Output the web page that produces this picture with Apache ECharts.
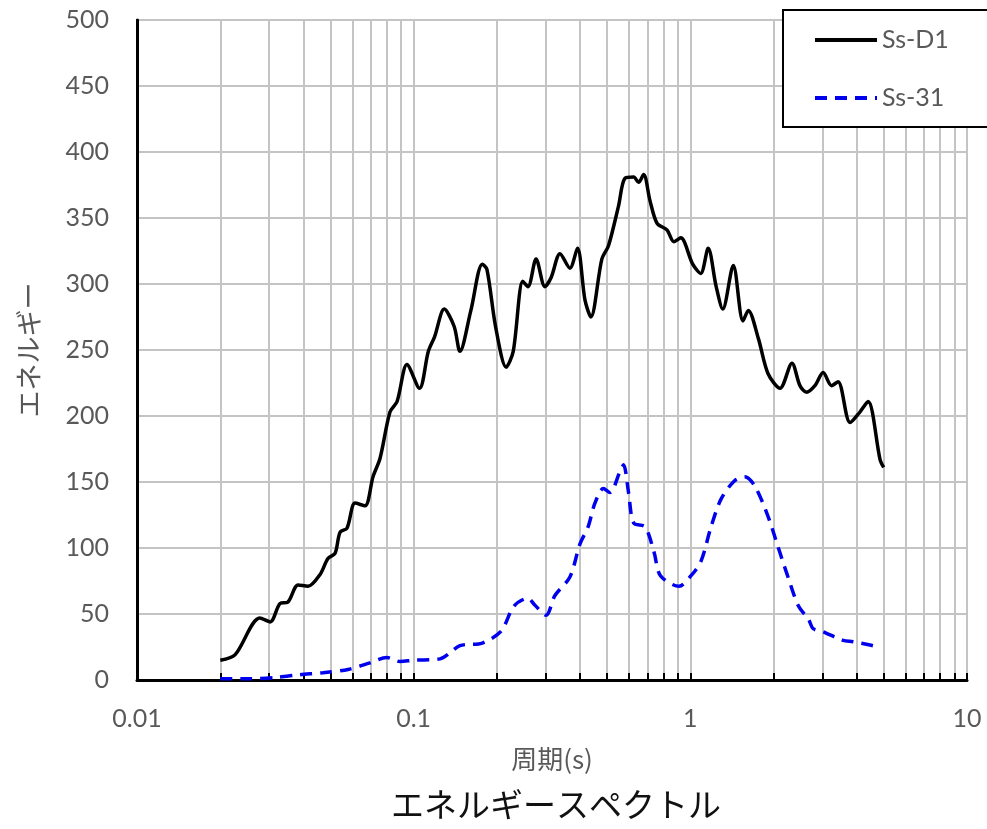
<!DOCTYPE html>
<html>
<head>
<meta charset="utf-8">
<script src="https://cdn.jsdelivr.net/npm/echarts@6/dist/echarts.min.js"></script>
<style>
  html, body { margin: 0; padding: 0; background: #fff; }
  #chart { width: 987px; height: 829px; }
</style>
</head>
<body>
<div id="chart"></div>
<script>
// Ss-D1 (solid black)
const periodD1 = [0.02, 0.0226, 0.0278, 0.0303, 0.0329, 0.0351, 0.0382, 0.0415, 0.0459, 0.049,
  0.052, 0.0542, 0.0574, 0.0614, 0.0667, 0.0713, 0.0756, 0.0821, 0.0871, 0.0946,
  0.105, 0.113, 0.119, 0.129, 0.14, 0.147, 0.161, 0.177, 0.184, 0.198,
  0.216, 0.229, 0.248, 0.259, 0.277, 0.298, 0.314, 0.338, 0.367, 0.391,
  0.416, 0.437, 0.479, 0.506, 0.55, 0.58, 0.624, 0.65, 0.678, 0.715,
  0.758, 0.823, 0.873, 0.923, 1.02, 1.09, 1.16, 1.24, 1.31, 1.43,
  1.55, 1.62, 1.76, 1.91, 2.11, 2.33, 2.49, 2.63, 2.82, 3.02,
  3.24, 3.42, 3.78, 4.1, 4.39, 4.85, 5.0]
const energyD1 = [15, 19, 47, 44, 58, 59, 72, 71, 80, 92,
  96, 112, 115, 134, 132, 154, 168, 203, 211, 239,
  221, 249, 260, 281, 268, 249, 280, 315, 311, 267,
  237, 249, 302, 298, 319, 298, 305, 323, 312, 327,
  288, 275, 319, 329, 359, 380, 381, 377, 383, 363,
  346, 341, 332, 335, 315, 308, 327, 298, 281, 314,
  272, 280, 259, 232, 221, 240, 223, 218, 223, 233,
  223, 226, 195, 203, 211, 167, 161]

// Ss-31 (dashed blue)
const period31 = [0.02, 0.0256, 0.0318, 0.0388, 0.047, 0.0579, 0.0695, 0.08, 0.0892, 0.1,
  0.1245, 0.147, 0.177, 0.207, 0.2305, 0.259, 0.2734, 0.301, 0.324, 0.367,
  0.399, 0.427, 0.452, 0.485, 0.512, 0.557, 0.5735, 0.598, 0.624, 0.686,
  0.739, 0.78, 0.91, 1.006, 1.093, 1.188, 1.291, 1.445, 1.572, 1.71,
  1.909, 2.074, 2.263, 2.46, 2.675, 2.776, 3.017, 3.563, 3.871, 4.46, 4.768]
const energy31 = [1, 1, 2, 4, 5.5, 8, 13, 17, 14, 15,
  16, 26, 28, 37, 56, 62, 57, 49, 64, 78,
  103, 116, 134, 145, 142, 158, 163, 142, 119, 116,
  97, 79, 71, 79, 90, 116, 137, 151, 154, 147,
  124, 101, 77, 56, 46, 39, 36.6, 30, 29, 26.5, 25]

const xGridValues = [0.01, 0.02, 0.03, 0.04, 0.05, 0.06, 0.07, 0.08, 0.09,
  0.1, 0.2, 0.3, 0.4, 0.5, 0.6, 0.7, 0.8, 0.9,
  1, 2, 3, 4, 5, 6, 7, 8, 9, 10]
const xLabelValues = [0.01, 0.1, 1, 10]

const seriesNames = ['Ss-D1', 'Ss-31']

const labelColor = '#595959'
const numFont = 'Lato, "Noto Sans CJK JP", sans-serif'
const jpFont = '"Noto Sans CJK JP", sans-serif'

const chart = echarts.init(document.getElementById('chart'))

chart.setOption({
  animation: false,
  title: {
    text: 'エネルギースペクトル',
    left: 551,
    textAlign: 'center',
    top: 783,
    textStyle: { fontFamily: jpFont, fontSize: 33, fontWeight: 'normal', color: '#111' }
  },
  legend: {
    data: seriesNames,
    orient: 'vertical',
    left: 783,
    top: 10,
    padding: [17, 40, 16, 30],
    itemGap: 32,
    itemWidth: 62,
    itemHeight: 14,
    itemStyle: { opacity: 0 },
    lineStyle: { width: 4 },
    backgroundColor: '#fff',
    borderColor: '#000',
    borderWidth: 2,
    z: 10,
    textStyle: { fontFamily: numFont, fontSize: 25, color: labelColor, lineHeight: 26 }
  },
  grid: {
    left: 137,
    right: 20,
    top: 20,
    bottom: 149,
    show: true,
    borderColor: '#000',
    borderWidth: 2
  },
  xAxis: {
    type: 'log',
    logBase: 10,
    min: 0.01,
    max: 10,
    name: '周期(s)',
    nameLocation: 'middle',
    nameGap: 66,
    nameTextStyle: { fontFamily: jpFont, fontSize: 26, color: labelColor },
    axisLine: { lineStyle: { color: '#000', width: 3 } },
    axisTick: { show: true, inside: true, length: 7, customValues: xGridValues, lineStyle: { color: '#000', width: 2 } },
    axisLabel: {
      customValues: xLabelValues,
      margin: 26,
      fontFamily: numFont,
      fontSize: 25,
      color: labelColor,
      formatter: v => String(v)
    },
    splitLine: { show: true, lineStyle: { color: '#c4c4c4', width: 2 } },
    minorTick: { show: false },
    minorSplitLine: { show: false }
  },
  yAxis: {
    type: 'value',
    min: 0,
    max: 500,
    interval: 50,
    name: 'エネルギー',
    nameLocation: 'middle',
    nameGap: 95,
    nameTextStyle: { fontFamily: jpFont, fontSize: 27, color: labelColor },
    axisLine: { show: true, lineStyle: { color: '#000', width: 3 } },
    axisTick: { show: false },
    axisLabel: { margin: 28, fontFamily: numFont, fontSize: 25, color: labelColor },
    splitLine: { show: true, lineStyle: { color: '#c4c4c4', width: 2 } }
  },
  series: [
    {
      name: seriesNames[0],
      type: 'line',
      data: periodD1.map((p, i) => [p, energyD1[i]]),
      smooth: 0.3,
      symbol: 'none',
      lineStyle: { color: '#000', width: 3.5 },
      itemStyle: { color: '#000' },
      z: 3
    },
    {
      name: seriesNames[1],
      type: 'line',
      data: period31.map((p, i) => [p, energy31[i]]),
      smooth: 0.3,
      symbol: 'none',
      lineStyle: { color: '#0000ee', width: 3.5, type: [12, 8] },
      itemStyle: { color: '#0000ee' },
      z: 3
    }
  ]
})
</script>
</body>
</html>
